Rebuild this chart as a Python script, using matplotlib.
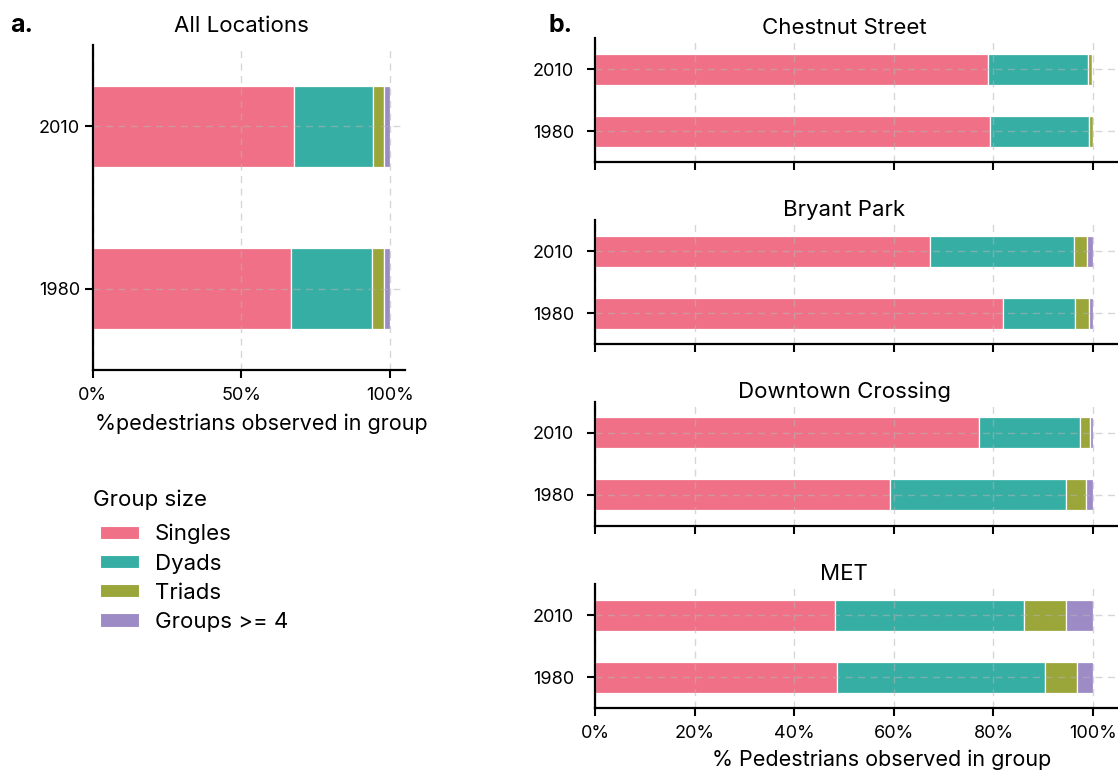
import matplotlib
matplotlib.use("Agg")
import matplotlib.pyplot as plt
from matplotlib.patches import Patch
from matplotlib.ticker import PercentFormatter

plt.rcParams["font.family"] = ["Inter", "DejaVu Sans"]

# Share of pedestrians (%) by group size, per location and year
locations = ["All Locations", "Chestnut Street", "Bryant Park", "Downtown Crossing", "MET"]
years = ["1980", "2010"]
group_sizes = ["Singles", "Dyads", "Triads", "Groups >= 4"]

singles_1980 = [66.7, 79.3, 81.9, 59.3, 48.6]
dyads_1980 = [27.3, 19.9, 14.4, 35.2, 41.7]
triads_1980 = [4.1, 0.7, 2.8, 4.1, 6.5]
groups4_1980 = [1.9, 0.1, 0.9, 1.4, 3.2]

singles_2010 = [67.7, 79.0, 67.2, 77.0, 48.1]
dyads_2010 = [26.4, 20.0, 28.9, 20.4, 38.1]
triads_2010 = [3.7, 0.8, 2.7, 2.0, 8.4]
groups4_2010 = [2.2, 0.2, 1.2, 0.6, 5.4]

colors = ["#f07187", "#36aea4", "#9aa53a", "#9d8bc6"]

by_year = {
    "1980": [singles_1980, dyads_1980, triads_1980, groups4_1980],
    "2010": [singles_2010, dyads_2010, triads_2010, groups4_2010],
}

W, H = 1118, 772
fig = plt.figure(figsize=(W / 100, H / 100), dpi=100)


def px_axes(left, top, right, bottom):
    return fig.add_axes([left / W, 1 - bottom / H, (right - left) / W, (bottom - top) / H])


def draw_stack(ax, loc_idx, ypad):
    for yi, year in enumerate(years):
        left = 0.0
        for gi, series in enumerate(by_year[year]):
            val = series[loc_idx]
            ax.barh(yi, val, left=left, height=0.5, color=colors[gi],
                    edgecolor="white", linewidth=0.9, zorder=2)
            left += val
    ax.set_xlim(0, 105)
    ax.set_ylim(-0.5, 1.5)
    ax.set_yticks(range(len(years)))
    ax.set_yticklabels(years)
    ax.set_axisbelow(False)
    ax.grid(True, color="#b5b5b5", alpha=0.55, linestyle=(0, (5, 4)), linewidth=1.0, zorder=3)
    for side in ("top", "right"):
        ax.spines[side].set_visible(False)
    for side in ("left", "bottom"):
        ax.spines[side].set_linewidth(1.6)
        ax.spines[side].set_zorder(5)
    ax.tick_params(axis="both", length=6, width=1.5, labelsize=13)
    ax.tick_params(axis="x", pad=6)
    ax.tick_params(axis="y", pad=ypad)
    ax.xaxis.set_major_formatter(PercentFormatter(decimals=0))


# panel a: all locations
ax_a = px_axes(92.5, 45, 405, 370)
draw_stack(ax_a, 0, ypad=3)
ax_a.set_xticks([0, 50, 100])
ax_a.set_title(locations[0], fontsize=16, x=50 / 105, pad=9.5)
ax_a.set_xlabel("%pedestrians observed in group", fontsize=15.5)
ax_a.xaxis.set_label_coords(261 / W, (H - 414) / H, transform=fig.transFigure)

# panel b: each location
for i in range(4):
    top = 38 + 182 * i
    ax = px_axes(595, top, 1118, top + 124)
    draw_stack(ax, i + 1, ypad=9)
    ax.set_xticks([0, 20, 40, 60, 80, 100])
    ax.set_title(locations[i + 1], fontsize=16, x=50 / 105, pad=1.5)
    if i < 3:
        ax.tick_params(axis="x", labelbottom=False)
    else:
        ax.set_xlabel("% Pedestrians observed in group", fontsize=15.5)
        ax.xaxis.set_label_coords(882 / W, (H - 749) / H, transform=fig.transFigure)

fig.text(10 / W, 1 - 25 / H, "a.", fontsize=18, fontweight="bold", va="center", ha="left")
fig.text(549 / W, 1 - 25 / H, "b.", fontsize=18, fontweight="bold", va="center", ha="left")

# legend for the group sizes
fig.text(93 / W, 1 - 500 / H, "Group size", fontsize=16, va="center", ha="left")
handles = [Patch(facecolor=c, edgecolor="white", linewidth=0.8) for c in colors]
leg = fig.legend(handles, group_sizes, loc="upper left",
                 bbox_to_anchor=(100 / W, 1 - 524 / H), frameon=False, fontsize=16,
                 borderpad=0, borderaxespad=0, handlelength=1.75, handleheight=0.54,
                 handletextpad=0.72, labelspacing=0.41)

fig.savefig("out.png", dpi=100)
